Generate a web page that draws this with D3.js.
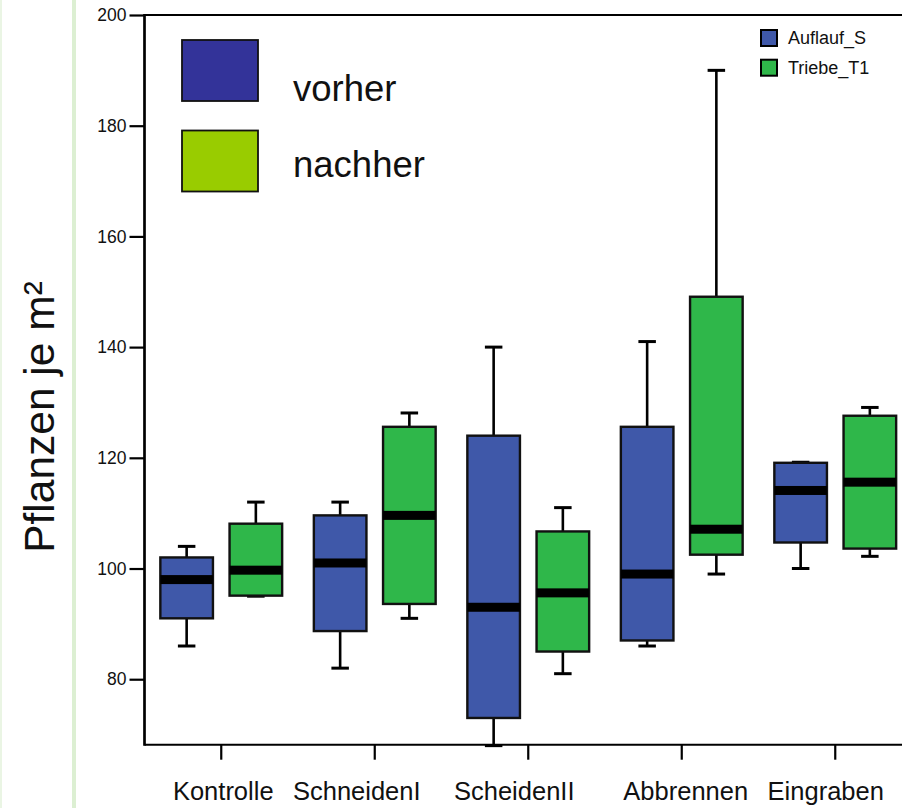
<!DOCTYPE html>
<html>
<head>
<meta charset="utf-8">
<script src="https://cdn.jsdelivr.net/npm/d3@7"></script>
<style>
  html, body { margin: 0; padding: 0; background: #ffffff; }
  svg { display: block; font-family: Arial, "Liberation Sans", Helvetica, sans-serif; }
</style>
</head>
<body>
<svg id="chart" width="902" height="808"></svg>
<script>
// ---- data ----
const categories = ["Kontrolle", "SchneidenI", "ScheidenII", "Abbrennen", "Eingraben"];
const seriesNames = ["Auflauf_S", "Triebe_T1"];
// each entry: [min, q1, median, q3, max]
const auflaufS = [
  [86, 91, 98, 102, 104],
  [82, 88.7, 101, 109.6, 112],
  [68, 73, 93, 124, 140],
  [86, 87, 99, 125.6, 141],
  [100, 104.7, 114.1, 119.1, 119.2]
];
const triebeT1 = [
  [95, 95.1, 99.7, 108.1, 112],
  [91, 93.6, 109.6, 125.6, 128.1],
  [81, 85, 95.6, 106.7, 111],
  [99, 102.5, 107.1, 149.1, 190],
  [102.2, 103.6, 115.6, 127.6, 129.1]
];
const yTicks = [80, 100, 120, 140, 160, 180, 200];
const bigLegendLabels = ["vorher", "nachher"];
const yTitle = "Pflanzen je m²";

// ---- layout / style ----
const W = 902, H = 808;
const mLeft = 144.5, mRight = 912, mTop = 15, mBottom = 744.7;
const seriesColors = ["#3f58a9", "#2fb74a"];
const bigLegendColors = ["#333399", "#99cc00"];
const labelNudge = [2, -18, -14, 4, -9.5];

const svg = d3.select("#chart");

// faint green strips on the left
svg.append("rect").attr("x", 72).attr("y", 0).attr("width", 4).attr("height", H).attr("fill", "#dcefd2");
svg.append("rect").attr("x", 0).attr("y", 0).attr("width", 2).attr("height", H).attr("fill", "#eaf5e4");

const x0 = d3.scaleBand().domain(categories).range([mLeft, mRight]).padding(0);
const x1 = d3.scaleBand().domain(seriesNames).range([0, x0.bandwidth()]).paddingInner(0.24).paddingOuter(0.229);
const y = d3.scaleLinear().domain([68.17, 200]).range([mBottom, mTop]);

// y axis
const yAxis = d3.axisLeft(y).tickValues(yTicks).tickSize(15).tickPadding(3).tickFormat(d3.format("d"));
const gy = svg.append("g").attr("transform", `translate(${mLeft},0)`).call(yAxis);
gy.select(".domain").remove();
gy.selectAll(".tick line").attr("stroke", "#000").attr("stroke-width", 2.2);
gy.selectAll(".tick text").attr("font-size", 17.5).attr("fill", "#111").attr("font-family", "Arial, 'Liberation Sans', sans-serif");

// x axis ticks
const xAxis = d3.axisBottom(x0).tickSize(15).tickFormat("");
const gx = svg.append("g").attr("transform", `translate(0,${mBottom})`).call(xAxis);
gx.select(".domain").remove();
gx.selectAll(".tick line").attr("stroke", "#000").attr("stroke-width", 2.2);

// category labels
svg.append("g").selectAll("text").data(categories).join("text")
  .attr("x", (d, i) => x0(d) + x0.bandwidth() / 2 + labelNudge[i])
  .attr("y", 800)
  .attr("text-anchor", "middle")
  .attr("font-size", 25.5)
  .attr("fill", "#111")
  .text(d => d);

// frame lines
svg.append("line").attr("x1", mLeft).attr("x2", W).attr("y1", mTop).attr("y2", mTop).attr("stroke", "#000").attr("stroke-width", 2);
svg.append("line").attr("x1", mLeft).attr("x2", W).attr("y1", mBottom).attr("y2", mBottom).attr("stroke", "#000").attr("stroke-width", 2);
svg.append("line").attr("x1", mLeft).attr("x2", mLeft).attr("y1", mTop - 1).attr("y2", mBottom + 1).attr("stroke", "#000").attr("stroke-width", 2.7);

// boxes
const allSeries = [auflaufS, triebeT1];
const capW = 17.5;
allSeries.forEach((ser, si) => {
  const g = svg.append("g");
  ser.forEach((v, ci) => {
    const [mn, q1, med, q3, mx] = v;
    const bx = x0(categories[ci]) + x1(seriesNames[si]);
    const bw = x1.bandwidth();
    const cx = bx + bw / 2;
    g.append("line").attr("x1", cx).attr("x2", cx).attr("y1", y(mx)).attr("y2", y(q3)).attr("stroke", "#000").attr("stroke-width", 2.6);
    g.append("line").attr("x1", cx).attr("x2", cx).attr("y1", y(q1)).attr("y2", y(mn)).attr("stroke", "#000").attr("stroke-width", 2.6);
    g.append("line").attr("x1", cx - capW / 2).attr("x2", cx + capW / 2).attr("y1", y(mx)).attr("y2", y(mx)).attr("stroke", "#000").attr("stroke-width", 3);
    g.append("line").attr("x1", cx - capW / 2).attr("x2", cx + capW / 2).attr("y1", y(mn)).attr("y2", y(mn)).attr("stroke", "#000").attr("stroke-width", 3);
    g.append("rect").attr("x", bx).attr("y", y(q3)).attr("width", bw).attr("height", y(q1) - y(q3))
      .attr("fill", seriesColors[si]).attr("stroke", "#111").attr("stroke-width", 2.4);
    g.append("rect").attr("x", bx).attr("y", y(med) - 4.5).attr("width", bw).attr("height", 9).attr("fill", "#000");
  });
});

// small legend
const sl = svg.append("g");
seriesNames.forEach((n, i) => {
  sl.append("rect").attr("x", 761).attr("y", 30 + i * 29.7).attr("width", 16).attr("height", 16)
    .attr("fill", seriesColors[i]).attr("stroke", "#000").attr("stroke-width", 2);
  sl.append("text").attr("x", 788).attr("y", 44 + i * 29.7).attr("font-size", 18).attr("fill", "#111").text(n);
});

// big legend
const bl = svg.append("g");
bigLegendLabels.forEach((n, i) => {
  bl.append("rect").attr("x", 182).attr("y", 40 + i * 90.5).attr("width", 76).attr("height", 61)
    .attr("fill", bigLegendColors[i]).attr("stroke", "#111").attr("stroke-width", 1.8);
  bl.append("text").attr("x", 293).attr("y", 101 + i * 75.5).attr("font-size", 36.5).attr("fill", "#111").text(n);
});

// y title
svg.append("text")
  .attr("transform", "translate(53.5,417) rotate(-90)")
  .attr("text-anchor", "middle")
  .attr("font-size", 42.5)
  .attr("fill", "#111")
  .text(yTitle);
</script>
</body>
</html>
